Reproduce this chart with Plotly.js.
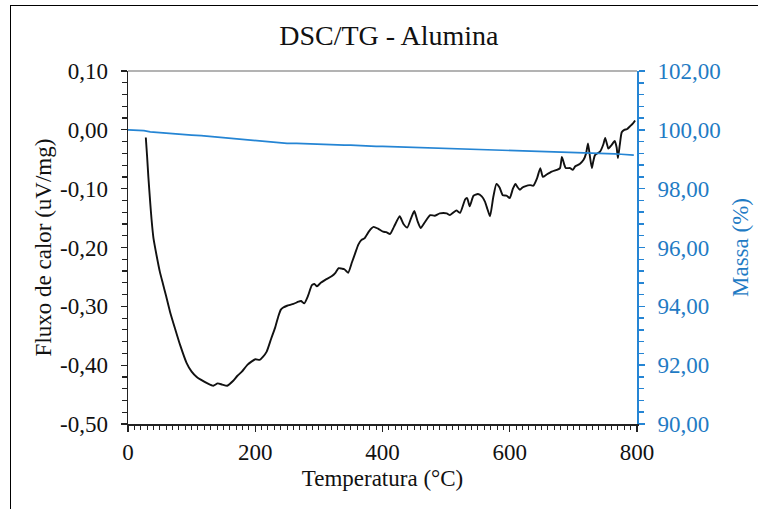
<!DOCTYPE html>
<html>
<head>
<meta charset="utf-8">
<script src="https://cdn.plot.ly/plotly-3.0.1.min.js"></script>
<style>
  html, body { margin: 0; padding: 0; background: #fff; }
  #wrap { position: relative; width: 758px; height: 509px; overflow: hidden; }
  #chart { position: absolute; left: 0; top: 0; width: 758px; height: 509px; }
  #frame { position: absolute; left: 10px; top: 5px; width: 760px; height: 520px;
           border-left: 1px solid #000; border-top: 1px solid #000; pointer-events: none; }
</style>
</head>
<body>
<div id="wrap">
  <div id="chart"></div>
  <div id="frame"></div>
</div>
<script>
// DSC heat flow (uV/mg) vs temperature (°C)
const dscTemp = [28,30,32,35,37,40,45,50,55,60,66,74,82,92,100,108,115,125,134,141,148,156,165,172,179,188,200,207,212,218,225,231,236,240,244,250,260,268,272,277,283,289,293,297,303,310,320,326,331,336,340,346,352,357,362,367,372,379,386,393,401,406,412,418,427,433,439,445,450,455,460,466,475,482,490,501,506,516,522,530,533,537,543,550,556,561,565,569,574,579,584,589,595,600,605,609,612,616,620,624,632,637,643,648,652,658,666,674,679,682,686,688,695,699,703,710,716,720,723,726,729,731,734,742,747,750,753,755,760,765,768,770,773,776,780,784,789,793,797];
const dscFlow = [-0.013,-0.045,-0.080,-0.125,-0.152,-0.184,-0.214,-0.241,-0.262,-0.283,-0.309,-0.338,-0.366,-0.396,-0.411,-0.420,-0.425,-0.431,-0.435,-0.431,-0.433,-0.435,-0.427,-0.418,-0.411,-0.399,-0.390,-0.391,-0.386,-0.377,-0.355,-0.337,-0.318,-0.306,-0.302,-0.299,-0.296,-0.292,-0.291,-0.295,-0.282,-0.264,-0.262,-0.266,-0.260,-0.255,-0.249,-0.243,-0.235,-0.236,-0.237,-0.243,-0.225,-0.210,-0.195,-0.187,-0.184,-0.172,-0.165,-0.168,-0.173,-0.174,-0.177,-0.165,-0.147,-0.160,-0.166,-0.150,-0.138,-0.155,-0.167,-0.158,-0.145,-0.146,-0.142,-0.142,-0.145,-0.137,-0.141,-0.118,-0.116,-0.130,-0.112,-0.109,-0.113,-0.122,-0.135,-0.147,-0.115,-0.092,-0.098,-0.111,-0.112,-0.116,-0.100,-0.092,-0.097,-0.102,-0.098,-0.096,-0.094,-0.095,-0.082,-0.065,-0.080,-0.076,-0.071,-0.068,-0.065,-0.046,-0.060,-0.065,-0.065,-0.068,-0.062,-0.058,-0.051,-0.040,-0.023,-0.045,-0.065,-0.055,-0.043,-0.037,-0.025,-0.014,-0.025,-0.032,-0.026,-0.019,-0.030,-0.048,-0.025,-0.004,0.000,0.001,0.006,0.010,0.016];

// TG mass (%) vs temperature (°C)
const tgTemp = [0,15,25,35,50,65,75,90,100,115,125,140,150,165,175,190,200,215,225,240,250,265,275,290,300,315,325,340,350,365,375,390,400,415,425,440,450,465,475,490,500,515,525,540,550,565,575,590,600,615,625,640,650,665,675,690,700,715,725,740,750,765,775,785,795];
const tgMass = [100.00,99.98,99.97,99.93,99.90,99.88,99.86,99.84,99.82,99.80,99.78,99.75,99.72,99.70,99.67,99.66,99.63,99.61,99.58,99.56,99.54,99.54,99.53,99.53,99.52,99.50,99.50,99.48,99.48,99.46,99.46,99.44,99.44,99.43,99.42,99.41,99.40,99.40,99.38,99.38,99.37,99.37,99.36,99.35,99.34,99.33,99.31,99.31,99.29,99.29,99.28,99.28,99.27,99.26,99.25,99.25,99.23,99.23,99.21,99.20,99.19,99.18,99.17,99.16,99.14];

const chartTitle = 'DSC/TG - Alumina';
const xTitle = 'Temperatura (°C)';
const yTitle = 'Fluxo de calor (uV/mg)';
const y2Title = 'Massa (%)';

const xTickVals = [0, 200, 400, 600, 800];
const xTickText = ['0', '200', '400', '600', '800'];
const yTickVals = [-0.5, -0.4, -0.3, -0.2, -0.1, 0, 0.1];
const yTickText = ['-0,50', '-0,40', '-0,30', '-0,20', '-0,10', '0,00', '0,10'];
const y2TickVals = [90, 92, 94, 96, 98, 100, 102];
const y2TickText = ['90,00', '92,00', '94,00', '96,00', '98,00', '100,00', '102,00'];

const FONT = '"Liberation Serif", "Times New Roman", Times, serif';
const BLUE = '#2585d4';
const BLUE_TEXT = '#1f7bc4';

const traces = [
  { x: tgTemp, y: tgMass, type: 'scatter', mode: 'lines', yaxis: 'y2',
    line: { color: BLUE, width: 1.7 }, hoverinfo: 'skip', showlegend: false },
  { x: dscTemp, y: dscFlow, type: 'scatter', mode: 'lines',
    line: { color: '#111', width: 1.9, shape: 'spline', smoothing: 0.5 }, hoverinfo: 'skip', showlegend: false }
];

const layout = {
  width: 758, height: 509,
  margin: { l: 128, r: 121, t: 71, b: 85, pad: 0 },
  paper_bgcolor: '#fff', plot_bgcolor: '#fff',
  font: { family: FONT, size: 23, color: '#111' },
  showlegend: false,
  title: { text: chartTitle, font: { family: FONT, size: 28, color: '#111' },
           x: 0.513, xanchor: 'center', y: 0.93, yanchor: 'middle' },
  xaxis: {
    range: [0, 800], tickmode: 'array', tickvals: xTickVals, ticktext: xTickText,
    showgrid: false, zeroline: false,
    showline: true, linecolor: '#222', linewidth: 1.5,
    ticks: 'outside', ticklen: 6, tickcolor: '#222', tickwidth: 1.3,
    ticklabelstandoff: 1,
    minor: { dtick: 10, tick0: 0, ticks: 'outside', ticklen: 4, tickcolor: '#222', tickwidth: 1 },
    tickfont: { family: FONT, size: 23, color: '#111' },
    title: { text: xTitle, font: { family: FONT, size: 23, color: '#111' }, standoff: 6 }
  },
  yaxis: {
    range: [-0.5, 0.1], tickmode: 'array', tickvals: yTickVals, ticktext: yTickText,
    showgrid: false, zeroline: false,
    showline: true, linecolor: '#222', linewidth: 1.5,
    ticks: 'outside', ticklen: 6, tickcolor: '#222', tickwidth: 1.3,
    ticklabelstandoff: 8,
    minor: { dtick: 0.02, tick0: 0, ticks: 'outside', ticklen: 5, tickcolor: '#222', tickwidth: 1.2 },
    tickfont: { family: FONT, size: 23, color: '#111' },
    title: { text: yTitle, font: { family: FONT, size: 23, color: '#111' }, standoff: 2 }
  },
  yaxis2: {
    overlaying: 'y', side: 'right',
    range: [90, 102], tickmode: 'array', tickvals: y2TickVals, ticktext: y2TickText,
    showgrid: false, zeroline: false,
    showline: true, linecolor: BLUE, linewidth: 2,
    ticks: 'outside', ticklen: 6, tickcolor: BLUE, tickwidth: 1.5,
    ticklabelstandoff: 8,
    minor: { dtick: 0.4, tick0: 90, ticks: 'outside', ticklen: 5, tickcolor: BLUE, tickwidth: 1.5 },
    tickfont: { family: FONT, size: 23, color: BLUE_TEXT },
    title: { text: y2Title, font: { family: FONT, size: 23, color: BLUE_TEXT }, standoff: 12 }
  },
  shapes: [
    { type: 'line', xref: 'paper', yref: 'paper', x0: 0, x1: 1, y0: 1, y1: 1,
      line: { color: '#9a9a9a', width: 1.3 } }
  ]
};

Plotly.newPlot('chart', traces, layout, { displayModeBar: false, staticPlot: true });
</script>
</body>
</html>
